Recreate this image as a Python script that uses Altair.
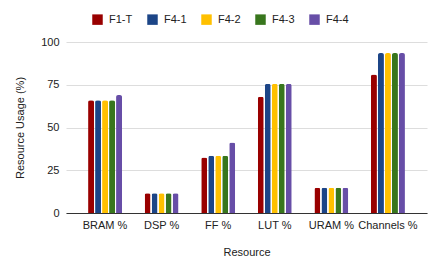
import altair as alt
import pandas as pd

resources = ["BRAM %", "DSP %", "FF %", "LUT %", "URAM %", "Channels %"]
series = ["F1-T", "F4-1", "F4-2", "F4-3", "F4-4"]
colors = ["#990000", "#1c4587", "#ffc000", "#38761d", "#674ea7"]

values = {
    "F1-T": [66, 11.5, 32.5, 68, 14.7, 81],
    "F4-1": [66, 11.5, 33.5, 75.5, 14.7, 93.5],
    "F4-2": [66, 11.5, 33.5, 75.5, 14.7, 93.5],
    "F4-3": [66, 11.5, 33.5, 75.5, 14.7, 93.5],
    "F4-4": [69, 11.5, 41.2, 75.5, 14.7, 93.5],
}

rows = []
for s in series:
    for r, v in zip(resources, values[s]):
        rows.append({"Resource": r, "Series": s, "Value": v})
df = pd.DataFrame(rows)

font = "Liberation Sans"

chart = (
    alt.Chart(df)
    .mark_bar(cornerRadiusTopLeft=2, cornerRadiusTopRight=2)
    .encode(
        x=alt.X(
            "Resource:N",
            sort=resources,
            title="Resource",
            scale=alt.Scale(paddingInner=0.4, paddingOuter=0.39),
            axis=alt.Axis(
                labelAngle=0,
                ticks=False,
                domainColor="#333333",
                labelPadding=6,
                titlePadding=16,
                labelFontSize=11,
                titleFontSize=11,
                labelColor="#222222",
                titleColor="#222222",
                titleFontWeight="normal",
            ),
        ),
        xOffset=alt.XOffset("Series:N", sort=series, scale=alt.Scale(paddingInner=0.15)),
        y=alt.Y(
            "Value:Q",
            title="Resource Usage (%)",
            scale=alt.Scale(domain=[0, 100]),
            axis=alt.Axis(
                values=[0, 25, 50, 75, 100],
                ticks=False,
                domain=False,
                gridColor="#dddddd",
                labelPadding=7,
                titlePadding=15,
                labelFontSize=11,
                titleFontSize=11,
                labelColor="#222222",
                titleColor="#222222",
                titleFontWeight="normal",
            ),
        ),
        color=alt.Color(
            "Series:N",
            sort=series,
            scale=alt.Scale(domain=series, range=colors),
            legend=alt.Legend(
                title=None,
                orient="none",
                direction="horizontal",
                legendX=26,
                legendY=-28,
                symbolType="square",
                symbolSize=110,
                symbolStrokeWidth=0,
                labelFontSize=11,
                labelColor="#222222",
                columnPadding=14,
                labelOffset=6,
            ),
        ),
    )
    .properties(
        width=361,
        height=171,
        autosize=alt.AutoSizeParams(type="none"),
        padding={"left": 58, "top": 34, "right": 6, "bottom": 52},
    )
    .configure(font=font)
    .configure_view(stroke=None)
)

chart.save("out.html", embed_options={"renderer": "svg", "actions": False})
